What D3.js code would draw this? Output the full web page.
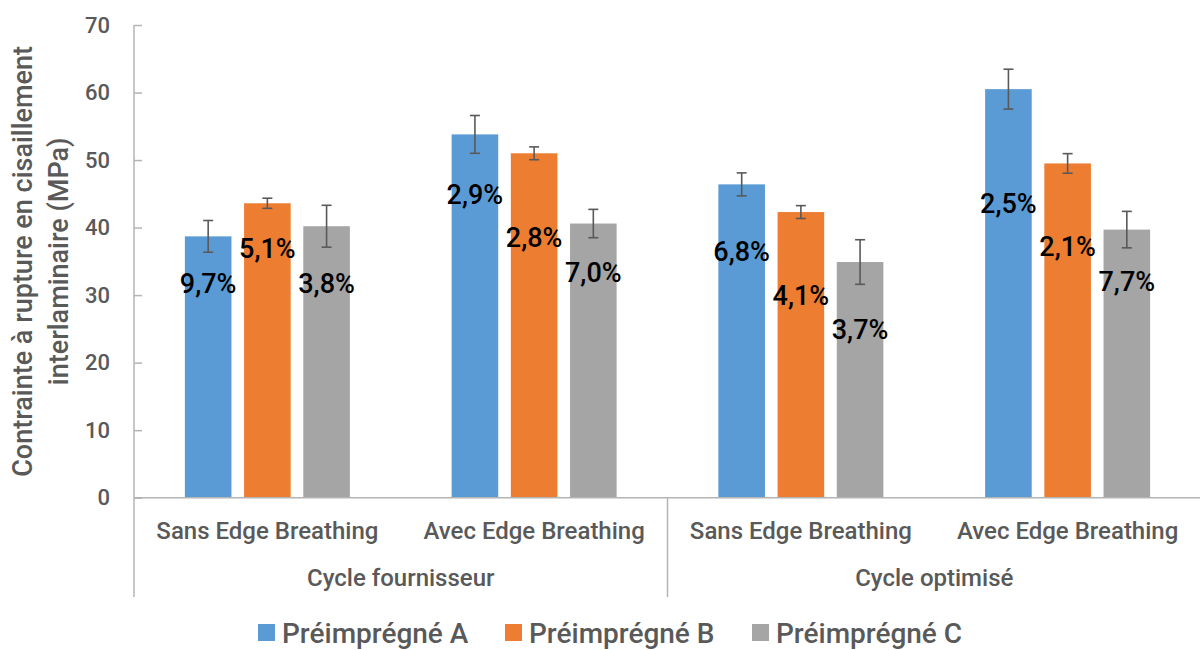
<!DOCTYPE html>
<html>
<head>
<meta charset="utf-8">
<script src="https://cdn.jsdelivr.net/npm/d3@7"></script>
<style>
  html, body { margin: 0; padding: 0; background: #fff; }
  svg { display: block; font-family: Roboto, "Noto Sans", sans-serif; }
</style>
</head>
<body>
<svg id="chart" width="1200" height="650"></svg>
<script>
// Sub-categories and their parent cycles
const categories = ["Sans Edge Breathing", "Avec Edge Breathing", "Sans Edge Breathing", "Avec Edge Breathing"];
const cycles = ["Cycle fournisseur", "Cycle optimisé"];
const seriesNames = ["Préimprégné A", "Préimprégné B", "Préimprégné C"];

// Mean interlaminar shear strength (MPa)
const valuesA = [38.7, 53.8, 46.4, 60.5];
const valuesB = [43.6, 51.0, 42.3, 49.5];
const valuesC = [40.2, 40.6, 34.9, 39.7];

// Standard deviations (MPa)
const errorsA = [2.35, 2.8, 1.7, 2.95];
const errorsB = [0.75, 0.95, 0.95, 1.45];
const errorsC = [3.1, 2.1, 3.3, 2.7];

// Coefficient of variation labels
const labelsA = ["9,7%", "2,9%", "6,8%", "2,5%"];
const labelsB = ["5,1%", "2,8%", "4,1%", "2,1%"];
const labelsC = ["3,8%", "7,0%", "3,7%", "7,7%"];

const yTicks = [0, 10, 20, 30, 40, 50, 60, 70];

const colors = ["#5B9BD5", "#ED7D31", "#A5A5A5"];

// Where each percentage label sits, in axis units (labels were placed by hand)
const labelAtA = [31.7, 44.9, 36.5, 43.5];
const labelAtB = [36.9, 38.5, 30.0, 37.2];
const labelAtC = [31.7, 33.3, 24.9, 32.0];

const series = [
  { name: seriesNames[0], values: valuesA, errors: errorsA, labels: labelsA, at: labelAtA, color: colors[0] },
  { name: seriesNames[1], values: valuesB, errors: errorsB, labels: labelsB, at: labelAtB, color: colors[1] },
  { name: seriesNames[2], values: valuesC, errors: errorsC, labels: labelsC, at: labelAtC, color: colors[2] }
];

const svg = d3.select("#chart");
const axisColor = "#b4b4b4";
const textColor = "#595959";

const plot = { left: 134, right: 1201, top: 25, bottom: 497.7 };

const y = d3.scaleLinear().domain([0, 70]).range([plot.bottom, plot.top]);
const x = d3.scaleBand().domain(d3.range(categories.length)).range([plot.left, plot.right]).padding(0);
const groupSpan = 177.6;
const xSub = d3.scaleBand().domain(d3.range(series.length)).range([0, groupSpan])
  .paddingInner(0.213).paddingOuter(0.1065);
const groupStart = i => x(i) + x.bandwidth() / 2 - groupSpan / 2;

// Value axis: line, inside ticks and labels
const yAxis = d3.axisLeft(y).tickValues(yTicks).tickSize(-8).tickPadding(24).tickFormat(d3.format("d"));
const gy = svg.append("g").attr("transform", `translate(${plot.left},0)`).call(yAxis);
gy.select(".domain").remove();
gy.selectAll(".tick line").attr("stroke", axisColor).attr("stroke-width", 1.5);
gy.selectAll(".tick text").attr("fill", textColor).attr("font-size", 22).attr("font-weight", 500).attr("font-family", "Roboto");

svg.append("line")
  .attr("x1", plot.left).attr("x2", plot.left)
  .attr("y1", plot.top).attr("y2", 597)
  .attr("stroke", axisColor).attr("stroke-width", 1.5);

// Bars
series.forEach((s, si) => {
  svg.append("g").selectAll("rect")
    .data(s.values)
    .join("rect")
    .attr("x", (d, i) => groupStart(i) + xSub(si))
    .attr("width", xSub.bandwidth())
    .attr("y", d => y(d))
    .attr("height", d => y(0) - y(d))
    .attr("fill", s.color);
});

// Category axis line and group separators
svg.append("line")
  .attr("x1", plot.left).attr("x2", plot.right)
  .attr("y1", plot.bottom).attr("y2", plot.bottom)
  .attr("stroke", axisColor).attr("stroke-width", 1.5);

const cycleScale = d3.scaleBand().domain(cycles).range([plot.left, plot.right]);
svg.append("line")
  .attr("x1", cycleScale(cycles[1])).attr("x2", cycleScale(cycles[1]))
  .attr("y1", plot.bottom).attr("y2", 597)
  .attr("stroke", axisColor).attr("stroke-width", 1.5);

// Error bars
series.forEach((s, si) => {
  const g = svg.append("g").attr("stroke", "#595959").attr("stroke-width", 1.6);
  s.values.forEach((v, i) => {
    const cx = groupStart(i) + xSub(si) + xSub.bandwidth() / 2;
    const e = s.errors[i];
    g.append("line").attr("x1", cx).attr("x2", cx).attr("y1", y(v + e)).attr("y2", y(v - e));
    g.append("line").attr("x1", cx - 5).attr("x2", cx + 5).attr("y1", y(v + e)).attr("y2", y(v + e));
    g.append("line").attr("x1", cx - 5).attr("x2", cx + 5).attr("y1", y(v - e)).attr("y2", y(v - e));
  });
});

// Percentage labels
series.forEach((s, si) => {
  svg.append("g").selectAll("text")
    .data(s.labels)
    .join("text")
    .attr("x", (d, i) => groupStart(i) + xSub(si) + xSub.bandwidth() / 2)
    .attr("y", (d, i) => y(s.at[i]))
    .attr("dy", "0.35em")
    .attr("text-anchor", "middle")
    .attr("font-size", 27)
    .attr("font-weight", 500)
    .attr("fill", "#000")
    .text(d => d);
});

// Category labels
svg.append("g").selectAll("text")
  .data(categories)
  .join("text")
  .attr("x", (d, i) => x(i) + x.bandwidth() / 2)
  .attr("y", 539)
  .attr("text-anchor", "middle")
  .attr("font-size", 24)
  .attr("font-weight", 500)
  .attr("fill", textColor)
  .text(d => d);

svg.append("g").selectAll("text")
  .data(cycles)
  .join("text")
  .attr("x", d => cycleScale(d) + cycleScale.bandwidth() / 2)
  .attr("y", 586)
  .attr("text-anchor", "middle")
  .attr("font-size", 24)
  .attr("font-weight", 500)
  .attr("fill", textColor)
  .text(d => d);

// Value axis title
const title = svg.append("text")
  .attr("transform", `translate(0,${(plot.top + plot.bottom) / 2}) rotate(-90)`)
  .attr("text-anchor", "middle")
  .attr("font-size", 27)
  .attr("font-weight", 500)
  .attr("fill", textColor);
title.append("tspan").attr("x", 0).attr("y", 32).text("Contrainte à rupture en cisaillement");
title.append("tspan").attr("x", 0).attr("y", 68).text("interlaminaire (MPa)");

// Legend
const legendX = [258, 505, 752];
const legend = svg.append("g").selectAll("g")
  .data(series)
  .join("g")
  .attr("transform", (d, i) => `translate(${legendX[i]},624)`);
legend.append("rect").attr("width", 17).attr("height", 17).attr("fill", d => d.color);
legend.append("text")
  .attr("x", 24).attr("y", 19)
  .attr("font-size", 28)
  .attr("font-weight", 500)
  .attr("fill", textColor)
  .text(d => d.name);
</script>
</body>
</html>
